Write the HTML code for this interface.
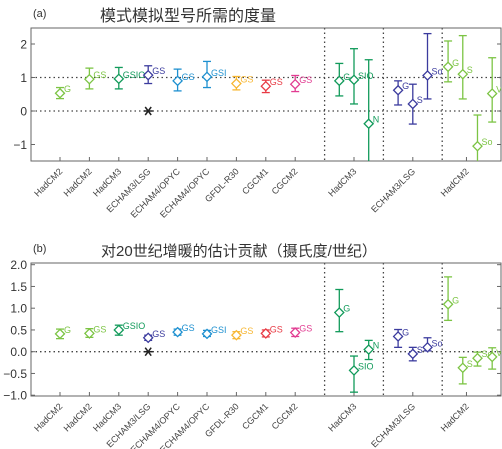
<!DOCTYPE html>
<html><head><meta charset="utf-8">
<style>
html,body{margin:0;padding:0;background:#fff;}
svg{display:block;font-family:"Liberation Sans","Noto Sans CJK SC",sans-serif;}
</style></head>
<body>
<svg id="chart" width="502" height="449" viewBox="0 0 502 449" xmlns="http://www.w3.org/2000/svg">
<text x="33" y="17" font-size="11" fill="#333">(a)</text>
<text x="188" y="21" font-size="16" fill="#333" text-anchor="middle" font-family="'Liberation Sans','Noto Sans CJK SC',sans-serif">模式模拟型号所需的度量</text>
<text x="33" y="252" font-size="11" fill="#333">(b)</text>
<text x="101" y="256" font-size="15" fill="#333" font-family="'Liberation Sans','Noto Sans CJK SC',sans-serif">对20世纪增暖的估计贡献（摄氏度/世纪）</text>
<g id="pa"></g>
<g id="pb"></g>
</svg>
<script>
const catNames = ["HadCM2","HadCM2","HadCM3","ECHAM3/LSG","ECHAM4/OPYC","ECHAM4/OPYC","GFDL-R30","CGCM1","CGCM2","HadCM3","ECHAM3/LSG","HadCM2"];
const catPos = [0,2,4,6,8,10,12,14,16,20,24,27.65];
const sepPos = [18,22,26];
const ptPos = [0,2,4,6,8,10,12,14,16,19,20,21,23,24,25,26.4,27.4,28.4,29.4];
const ptLabels = ["G","GS","GSIO","GS","GS","GSI","GS","GS","GS","G","SIO","N","G","S","So","G","S","So","V"];
const ptColors = ["#7cc444","#7cc444","#119a5a","#3b3b9e","#1e90d0","#1e90d0","#f7b733","#e83a44","#e23c92","#119a5a","#119a5a","#119a5a","#3b3b9e","#3b3b9e","#3b3b9e","#7cc444","#7cc444","#7cc444","#7cc444"];
const aMid = [0.53,0.95,0.96,1.07,0.90,1.02,0.82,0.74,0.80,0.90,0.93,-0.38,0.62,0.21,1.06,1.32,1.10,-1.05,0.52];
const aLo  = [0.37,0.66,0.66,0.82,0.60,0.70,0.63,0.55,0.58,0.45,0.21,-1.60,0.18,-0.39,0.36,0.87,0.36,-1.60,-0.33];
const aHi  = [0.70,1.28,1.30,1.35,1.25,1.48,1.03,0.92,1.06,1.42,1.86,1.53,0.90,0.80,2.31,2.09,2.25,-0.12,1.59];
const aTicks = [2,1,0,-1];
const aTickLabels = ["2","1","0","\u22121"];
const bMid = [0.41,0.42,0.50,0.32,0.45,0.41,0.38,0.42,0.44,0.90,-0.43,0.05,0.35,-0.05,0.10,1.09,-0.37,-0.15,-0.12];
const bLo  = [0.30,0.33,0.38,0.26,0.38,0.35,0.30,0.34,0.35,0.46,-0.93,-0.18,0.10,-0.21,0.02,0.72,-0.74,-0.33,-0.40];
const bHi  = [0.52,0.53,0.61,0.38,0.52,0.49,0.46,0.50,0.54,1.43,-0.10,0.26,0.51,0.10,0.32,1.72,-0.13,-0.01,0.09];
const bTicks = [2,1.5,1,0.5,0,-0.5,-1];
const bTickLabels = ["2.0","1.5","1.0","0.5","0.0","\u22120.5","\u22121.0"];

const NS="http://www.w3.org/2000/svg";
function mk(parent,tag,attrs){const e=document.createElementNS(NS,tag);for(const k in attrs)e.setAttribute(k,attrs[k]);parent.appendChild(e);return e;}

function drawPanel(gid,cfg){
  const g=document.getElementById(gid);
  const L=31,R=501,T=cfg.top,B=cfg.bottom;
  const x=i=>60+14.7*i;
  const y=v=>cfg.y0-v*cfg.unit;
  const clipId=gid+"clip";
  const defs=mk(g,"defs",{});
  const cp=mk(defs,"clipPath",{id:clipId});
  mk(cp,"rect",{x:L,y:T,width:R-L,height:B-T});
  cfg.hlines.forEach(v=>{
    const l=mk(g,"line",{x1:L,x2:R,y1:y(v),y2:y(v),stroke:"#444","stroke-width":1.3,"stroke-dasharray":"1.5,3"});
    
    
  });
  sepPos.forEach(p=>{
    const l=mk(g,"line",{x1:x(p),x2:x(p),y1:T,y2:B,stroke:"#444","stroke-width":1.3,"stroke-dasharray":"1.5,3"});
    
    
  });
  const fr=mk(g,"rect",{x:L,y:T,width:R-L,height:B-T,fill:"none",stroke:"#666","stroke-width":1});
  
  
  cfg.ticks.forEach((t,i)=>{
    mk(g,"line",{x1:L,x2:L+4,y1:y(t),y2:y(t),stroke:"#666"});
    mk(g,"line",{x1:R-4,x2:R,y1:y(t),y2:y(t),stroke:"#666"});
    const tx=mk(g,"text",{x:27,y:y(t)+4.5,"font-size":12,fill:"#333","text-anchor":"end"});
    tx.textContent=cfg.tickLabels[i];
    
    
  });
  catPos.forEach((p,i)=>{
    mk(g,"line",{x1:x(p),x2:x(p),y1:B,y2:B-4,stroke:"#666"});
    const tx=mk(g,"text",{x:0,y:0,"font-size":9,fill:"#444","text-anchor":"end",transform:`translate(${x(p)+3},${B+11}) rotate(-45)`});
    tx.textContent=catNames[i];
    
    
  });
  const sg=mk(g,"g",{"clip-path":`url(#${clipId})`});
  ptPos.forEach((p,i)=>{
    const c=ptColors[i],cx=x(p),cy=y(cfg.mid[i]);
    const eg=mk(sg,"g",{});
    
    
    mk(eg,"line",{x1:cx,x2:cx,y1:y(cfg.lo[i]),y2:y(cfg.hi[i]),stroke:c,"stroke-width":1.3});
    mk(eg,"line",{x1:cx-4,x2:cx+4,y1:y(cfg.lo[i]),y2:y(cfg.lo[i]),stroke:c,"stroke-width":1.3});
    mk(eg,"line",{x1:cx-4,x2:cx+4,y1:y(cfg.hi[i]),y2:y(cfg.hi[i]),stroke:c,"stroke-width":1.3});
    mk(eg,"polygon",{points:`${cx},${cy-4.5} ${cx+4.5},${cy} ${cx},${cy+4.5} ${cx-4.5},${cy}`,fill:"#fff",stroke:c,"stroke-width":1.3});
    const tx=mk(eg,"text",{x:cx+4,y:cy-1,"font-size":9,fill:c});
    tx.textContent=ptLabels[i];
  });
  const ax=x(6),ay=y(0);
  const st=mk(g,"g",{stroke:"#222","stroke-width":1.5});
  
  
  mk(st,"line",{x1:ax-4.5,x2:ax+4.5,y1:ay,y2:ay});
  mk(st,"line",{x1:ax-3,x2:ax+3,y1:ay-4,y2:ay+4});
  mk(st,"line",{x1:ax-3,x2:ax+3,y1:ay+4,y2:ay-4});
}
drawPanel("pa",{top:28,bottom:161,y0:111,unit:33.5,mid:aMid,lo:aLo,hi:aHi,ticks:aTicks,tickLabels:aTickLabels,hlines:[1,0]});
drawPanel("pb",{top:263,bottom:396,y0:351.7,unit:43.5,mid:bMid,lo:bLo,hi:bHi,ticks:bTicks,tickLabels:bTickLabels,hlines:[0]});
</script>
</body></html>
